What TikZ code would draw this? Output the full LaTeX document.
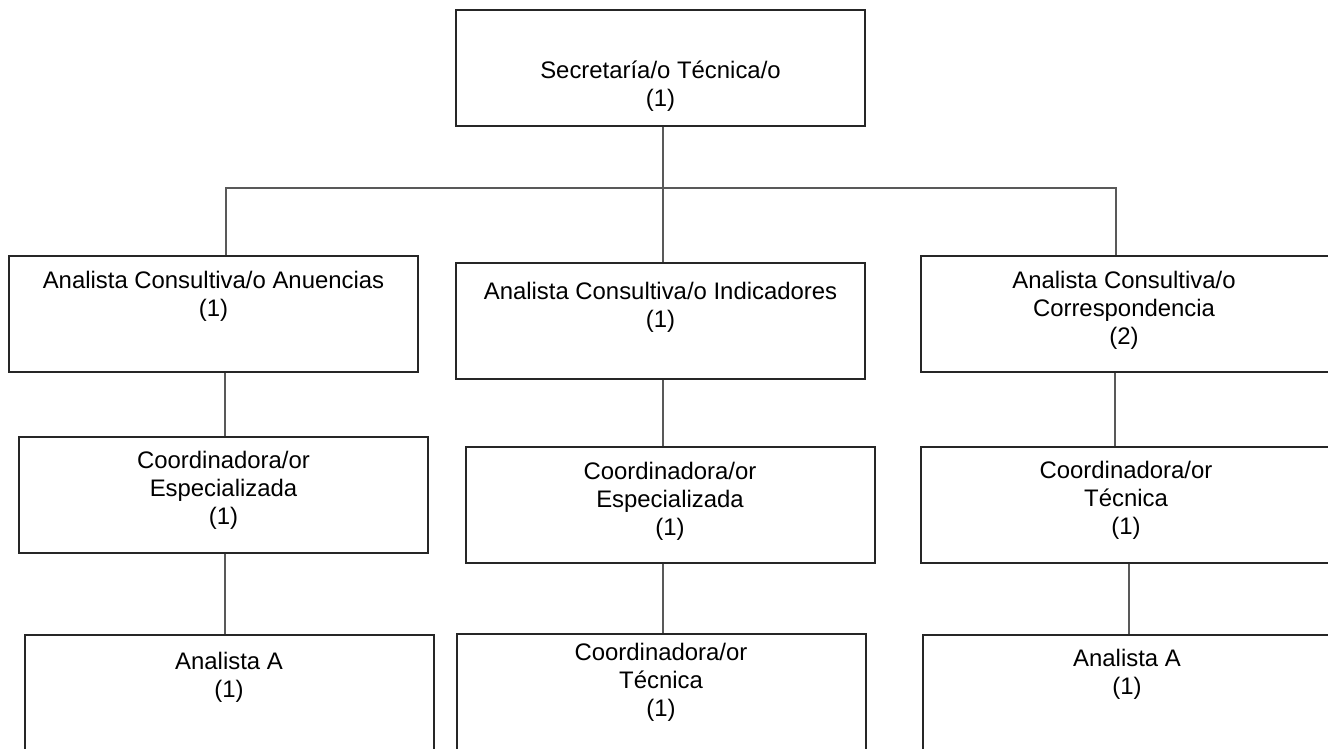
\documentclass[tikz,border=0pt]{standalone}
\usepackage{fontspec}
\setmainfont{Liberation Sans}
\newcommand\orgtext[1]{\begin{tabular}[t]{@{}c@{}}#1\end{tabular}}
\begin{document}
\begin{tikzpicture}[x=1pt,y=-1pt,
  box/.style={draw=black!85, line width=1.1pt, rectangle, minimum width=409pt, minimum height=116pt, inner sep=0pt},
  conn/.style={draw=black!65, line width=1.3pt},
  lbl/.style={anchor=base, inner sep=0pt, font=\fontsize{23.9}{28.3}\selectfont}]
\useasboundingbox (0,0) rectangle (1328,748);
% boxes
\node[box] (T)  at (660.5,68) {};
\node[box] (L1) at (213.5,314) {};
\node[box] (M1) at (660.5,321) {};
\node[box] (R1) at (1125.5,314) {};
\node[box] (L2) at (223.5,495) {};
\node[box] (M2) at (670.5,505) {};
\node[box] (R2) at (1125.5,505) {};
\node[box] (L3) at (229.5,693) {};
\node[box] (M3) at (661.5,692) {};
\node[box] (R3) at (1127.5,693) {};
% texts
\node[lbl] (tT)  at (660.5,78) {\orgtext{Secretaría/o Técnica/o\\(1)}};
\node[lbl] (tL1) at (213.5,288) {\orgtext{Analista Consultiva/o Anuencias\\(1)}};
\node[lbl] (tM1) at (660.5,299) {\orgtext{Analista Consultiva/o Indicadores\\(1)}};
\node[lbl] (tR1) at (1124,288) {\orgtext{Analista Consultiva/o\\Correspondencia\\(2)}};
\node[lbl] (tL2) at (223.5,468) {\orgtext{Coordinadora/or\\Especializada\\(1)}};
\node[lbl] (tM2) at (670,479) {\orgtext{Coordinadora/or\\Especializada\\(1)}};
\node[lbl] (tR2) at (1126,478) {\orgtext{Coordinadora/or\\Técnica\\(1)}};
\node[lbl] (tL3) at (229,669) {\orgtext{Analista A\\(1)}};
\node[lbl] (tM3) at (661,660) {\orgtext{Coordinadora/or\\Técnica\\(1)}};
\node[lbl] (tR3) at (1127,666) {\orgtext{Analista A\\(1)}};
% connectors
\coordinate (bus) at (663,188);
\coordinate (xL) at (226,188);
\coordinate (xR) at (1116,188);
\coordinate (xL2) at (225,0);
\coordinate (xR2) at (1115,0);
\coordinate (xR3) at (1129,0);
\draw[conn] (T.south -| bus) -- (bus);
\draw[conn] (L1.north -| xL) -- (xL) -- (xR) -- (R1.north -| xR);
\draw[conn] (bus) -- (M1.north -| bus);
\draw[conn] (L1.south -| xL2) -- (L2.north -| xL2);
\draw[conn] (L2.south -| xL2) -- (L3.north -| xL2);
\draw[conn] (M1.south -| bus) -- (M2.north -| bus);
\draw[conn] (M2.south -| bus) -- (M3.north -| bus);
\draw[conn] (R1.south -| xR2) -- (R2.north -| xR2);
\draw[conn] (R2.south -| xR3) -- (R3.north -| xR3);
\end{tikzpicture}
\end{document}
